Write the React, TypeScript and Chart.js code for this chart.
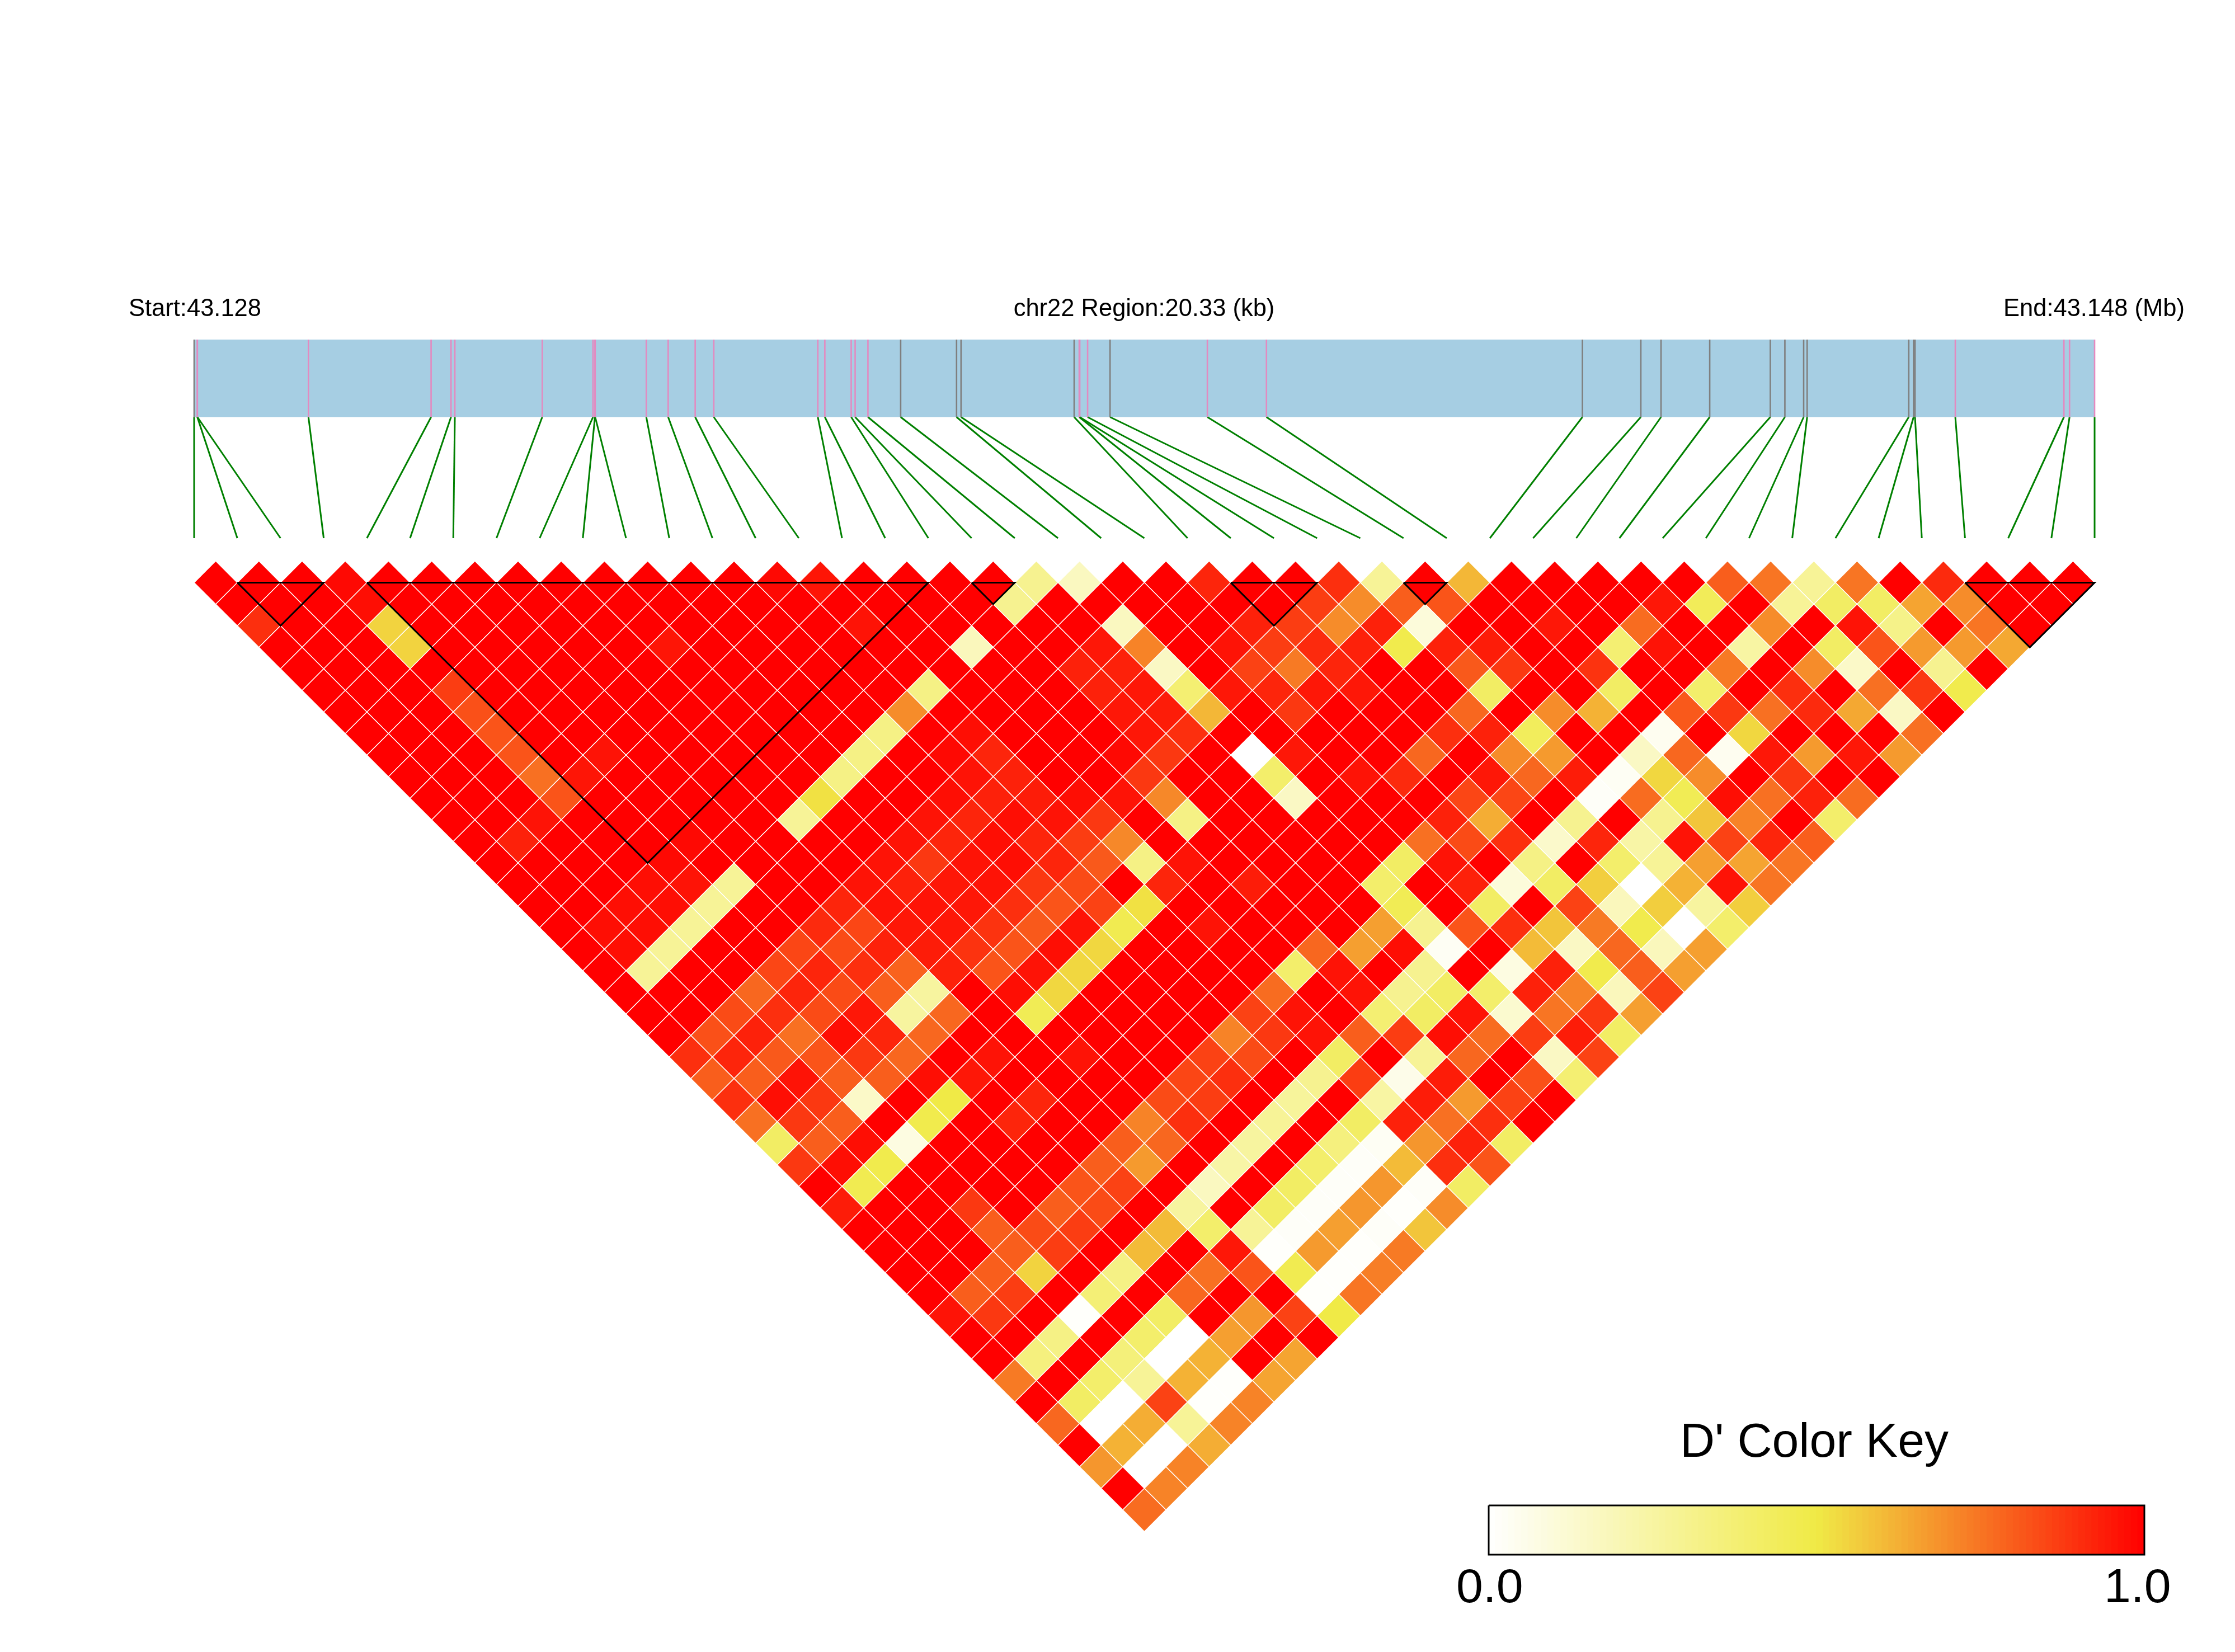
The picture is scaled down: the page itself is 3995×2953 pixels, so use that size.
import React, { useEffect, useRef } from "react";
import { Chart, registerables } from "chart.js";

Chart.register(...registerables);

// D' values, one list per depth of the triangle (row r holds the pairs i, i + r + 1)
const row00 = [1,1,1,.98,1,1,1,1,1,1,1,1,1,.98,.955,1,1,1,1,.3,.17,1,1,.92,1,1,.9,.28,1,.61,1,1,1,1,1,.8,.75,.28,.75,1,.91,1,1,1];
const row01 = [1,1,1,.97,1,1,1,1,1,1,1,1,1,1,1,1,1,1,.3,1,1,1,1,1,1,.87,.7,.8,.82,1,1,1,1,.95,.45,1,.28,.42,.42,.65,.7,1,1];
const row02 = [.9,1,1,.55,1,1,1,1,1,1,1,1,1,1,.96,1,1,1,1,1,.17,1,1,.93,.87,.7,.93,.1,1,1,.95,1,.77,1,1,.7,1,.96,.32,1,.75,1];
const row03 = [1,1,1,.55,1,1,1,1,1,.955,1,1,1,1,1,1,.18,1,1,.95,.72,1,.96,.87,.91,.93,.48,.93,.94,1,1,.38,.96,1,.25,1,.42,.82,.67,.67,.64];
const row04 = [1,1,1,1,1,1,1,1,1,1,1,1,1,1,1,1,1,1,.93,.93,.16,1,.86,.74,.92,1,1,.81,.88,1,.89,1,1,.74,1,.7,.15,1,.3,1];
const row05 = [1,1,1,.87,1,1,1,1,1,1,1,1,1,1,.33,1,1,1,.93,.95,.38,.95,.92,.95,.95,1,1,.42,1,1,.42,1,.4,1,.9,1,.76,.88,.48];
const row06 = [1,1,1,.83,1,1,1,1,1,1,1,1,1,.7,1,1,1,1,.95,.94,.61,1,.88,1,1,1,.78,1,.7,.62,1,.81,.88,.76,.91,.64,.16,1];
const row07 = [1,1,1,.82,1,1,1,1,1,1,1,1,.33,1,.97,1,1,1,.95,.9,1,1,1,1,1,.9,.93,.44,1,1,.04,1,.54,1,1,1,.76];
const row08 = [1,1,1,.82,1,.96,1,1,1,1,1,.33,1,.98,.92,1,1,.98,.88,1,0,.95,1,1,.78,1,.7,.67,1,.16,.78,.04,.95,.67,.95,.67];
const row09 = [1,1,1,.76,.955,1,1,1,1,1,.33,1,1,.96,.93,1,1,.88,1,1,.4,1,.96,.91,1,.95,.78,.94,.03,.54,.7,1,.88,1,1];
const row10 = [1,1,1,.82,1,1,1,1,1,.52,1,1,.97,.93,.94,.97,.96,.71,1,1,.16,1,1,1,.85,.85,1,.02,.77,.46,.97,.76,.93,.77];
const row11 = [1,1,.96,1,1,1,1,1,.28,1,1,.96,.92,.97,.96,.88,1,.33,1,1,1,1,1,.93,.63,1,.3,1,.3,.58,.72,1,.4];
const row12 = [1,.93,1,1,1,.98,1,1,1,1,.96,.92,.97,.92,.87,.71,1,1,1,1,1,1,.76,.84,.9,.14,.92,.24,.96,.86,.92,.8];
const row13 = [1,1,1,1,.98,1,1,1,1,.96,.88,.96,.97,.92,.81,.33,.96,1,1,1,1,.42,.96,1,.33,1,.4,.28,.66,.65,.75];
const row14 = [1,1,1,.97,.96,.28,1,1,.96,.93,.95,.96,.88,.84,1,.92,1,.94,1,1,.4,1,.93,.1,.42,.56,0,.62,.96,.75];
const row15 = [1,1,.97,.97,.28,1,1,.92,.96,.96,.95,.9,.82,.86,.52,1,1,1,1,1,.46,1,.42,1,.86,.18,.56,.26,.56];
const row16 = [1,.97,.97,.28,1,1,.91,.85,.95,.95,.89,.81,.96,.47,1,.96,1,1,1,.66,.3,.82,.9,.58,.74,.48,0,.4];
const row17 = [1,.97,.28,1,1,.85,.84,.93,.94,.89,.82,.97,.54,1,1,1,1,.78,.66,.97,.03,1,.6,.16,.78,.18,.66];
const row18 = [1,.28,1,1,.85,.92,.9,.79,.93,.82,.96,.54,1,1,1,1,.4,.96,1,.3,1,.08,.93,.48,.8,.66];
const row19 = [1,1,1,.78,.92,.84,.8,.26,1,.97,.54,1,1,1,1,.77,1,.96,.3,.42,.4,.93,.72,.18,.86];
const row20 = [1,1,.84,.9,.84,.95,.26,.78,1,.46,1,1,1,1,.86,.96,1,.38,.42,.96,.13,.75,.88,.66];
const row21 = [1,.83,.93,.76,.97,.92,.78,1,1,1,1,1,1,.72,.88,.96,.8,.87,.97,.77,.87,.94,.42];
const row22 = [.9,.92,.81,.82,.88,.78,1,.96,1,.96,1,1,.86,.84,1,.42,1,.28,.78,1,.16,.86];
const row23 = [.8,.8,.96,.8,.8,.97,.95,1,1,1,1,.85,.9,1,.3,.87,.06,.94,1,.83,.38];
const row24 = [.9,.97,.88,.15,1,.5,1,.92,1,1,.84,.87,1,.27,1,.25,.94,.67,.86,1];
const row25 = [.76,.88,.8,1,.48,1,.92,1,1,.72,.9,1,.28,1,.42,.93,.76,.9,1];
const row26 = [.42,.8,.97,.08,1,1,1,1,.8,.78,1,.26,1,.35,.03,.68,.93,.42];
const row27 = [.88,.97,.48,1,1,1,1,.8,.67,1,.24,1,.4,.02,.6,.9,.82];
const row28 = [1,.47,1,1,1,1,.82,.86,1,.17,1,.42,.02,.68,.02,.42];
const row29 = [.94,1,1,.88,1,.8,.84,1,.26,1,.42,.02,.68,.01,.7];
const row30 = [1,1,1,.8,.84,.87,1,.6,.4,.28,.02,.66,.02,.58];
const row31 = [1,1,1,.8,.87,1,.6,1,.95,.01,.67,.01,.74];
const row32 = [1,1,.8,.55,1,.33,1,.76,.82,.47,.01,.73];
const row33 = [1,.8,.87,1,.37,1,.78,1,1,.01,.75];
const row34 = [.96,.88,1,.01,1,.42,1,.68,.86,.5];
const row35 = [1,1,.33,1,.4,0,.66,1,1];
const row36 = [1,.35,1,.36,0,.62,1,.65];
const row37 = [.74,1,.4,.28,.62,.01,.65];
const row38 = [1,.42,0,.86,.01,.72];
const row39 = [.78,0,.63,.28,.72];
const row40 = [1,.62,0,.63];
const row41 = [.68,0,.72];
const row42 = [1,.72];
const row43 = [.77];

const ldRows = [row00,row01,row02,row03,row04,row05,row06,row07,row08,row09,row10,row11,row12,row13,row14,row15,row16,row17,row18,row19,row20,row21,row22,row23,row24,row25,row26,row27,row28,row29,row30,row31,row32,row33,row34,row35,row36,row37,row38,row39,row40,row41,row42,row43];

// physical SNP positions, kb from the region start
const snpKb = [0,.034,.035,1.223,2.535,2.748,2.789,3.724,4.267,4.288,4.29,4.837,5.071,5.36,5.559,6.672,6.747,7.029,7.071,7.208,7.558,8.156,8.204,9.414,9.468,9.474,9.558,9.798,10.839,11.471,14.851,15.476,15.692,16.213,16.861,17.017,17.218,17.255,18.342,18.394,18.409,18.84,20.002,20.062,20.33];
// annotation class per SNP: 0 = grey tick, 1 = pink tick
const snpClass = [0,1,1,1,1,1,1,1,1,1,1,1,1,1,1,1,1,1,1,1,0,0,0,0,1,1,1,0,1,1,0,0,0,0,0,0,0,0,0,0,0,1,1,1,1];
const regionKb = 20.33;

// LD blocks, first and last SNP index
const blockStart = [1,4,18,24,28,41];
const blockEnd = [3,17,19,26,29,44];

const labelStart = "Start:43.128";
const labelRegion = "chr22 Region:20.33 (kb)";
const labelEnd = "End:43.148 (Mb)";
const labelKey = "D' Color Key";
const labelKeyMin = "0.0";
const labelKeyMax = "1.0";
const keySteps = 100;

// layout, canvas pixels
const W = 3995, H = 2953;
const X0 = 347, DX = 77.205;
const Y0 = 1041.4, DY = 38.55;
const KEY_L = 2661, KEY_R = 3833, KEY_T = 2691, KEY_B = 2779;
const toRow = (py: number) => (py - Y0) / DY;
const BAR_T = toRow(607), BAR_B = toRow(745.5), LINE_B = toRow(962);

const WHITE = [255, 255, 255], YEL = [240, 234, 70], RED = [255, 0, 0];
function colorOf(v: number): string {
  const [a, b, t] = v <= 0.5 ? [WHITE, YEL, v / 0.5] : [YEL, RED, (v - 0.5) / 0.5];
  const m = a.map((c, i) => Math.round(c + (b[i] - c) * t));
  return `rgb(${m[0]},${m[1]},${m[2]})`;
}

const NO_POINT = { pointRadius: 0, pointHoverRadius: 0, showLine: true, fill: false, tension: 0, borderCapStyle: "butt" as const };

export default function App() {
  const ref = useRef<HTMLCanvasElement | null>(null);
  useEffect(() => {
    const canvas = ref.current;
    if (!canvas) return;

    const cells: { x: number; y: number }[] = [];
    const colors: string[] = [];
    ldRows.forEach((row, r) =>
      row.forEach((v, c) => {
        cells.push({ x: c + (r + 1) / 2, y: r });
        colors.push(colorOf(v));
      })
    );

    const snpP = snpKb.map((k) => (k / regionKb) * (snpKb.length - 1));
    const datasets: any[] = [];

    datasets.push({
      type: "line", ...NO_POINT, order: 30,
      data: [{ x: 0, y: BAR_T }, { x: snpKb.length - 1, y: BAR_T }],
      borderColor: "#A6CEE3", borderWidth: 0,
      fill: { target: { value: BAR_B } }, backgroundColor: "#A6CEE3",
    });
    snpP.forEach((p, i) => {
      datasets.push({
        type: "line", ...NO_POINT, order: 20,
        data: [{ x: p, y: BAR_T }, { x: p, y: BAR_B }],
        borderColor: snpClass[i] ? "#E38AC0" : "#7F7F7F", borderWidth: 2.6,
      });
      datasets.push({
        type: "line", ...NO_POINT, order: 20,
        data: [{ x: p, y: BAR_B }, { x: i, y: LINE_B }],
        borderColor: "#008000", borderWidth: 3,
      });
    });

    datasets.push({
      type: "scatter", order: 10, data: cells, showLine: false,
      pointStyle: "rectRot", pointRadius: 38.6, pointHoverRadius: 38.6,
      pointBackgroundColor: colors, pointBorderColor: "#FFFFFF", pointBorderWidth: 1.4,
    });

    blockStart.forEach((a, i) => {
      const b = blockEnd[i];
      datasets.push({
        type: "line", ...NO_POINT, order: 5,
        data: [{ x: a, y: 0 }, { x: b, y: 0 }, { x: (a + b) / 2, y: b - a }, { x: a, y: 0 }],
        borderColor: "#000000", borderWidth: 3, borderJoinStyle: "miter",
      });
    });

    const steps = Array.from({ length: keySteps }, (_, k) => (k + 0.5) / keySteps);
    datasets.push({
      type: "bar", order: 4, xAxisID: "xKey", yAxisID: "y", grouped: false,
      data: steps.map((s) => ({ x: s, y: [toRow(KEY_T), toRow(KEY_B)] })),
      backgroundColor: steps.map(colorOf), borderWidth: 0,
      barThickness: (KEY_R - KEY_L) / keySteps + 0.6,
    });
    datasets.push({
      type: "line", ...NO_POINT, order: 1, xAxisID: "xKey",
      data: [
        { x: 0, y: toRow(KEY_T) }, { x: 1, y: toRow(KEY_T) },
        { x: 1, y: toRow(KEY_B) }, { x: 0, y: toRow(KEY_B) }, { x: 0, y: toRow(KEY_T) },
      ],
      borderColor: "#000000", borderWidth: 3, borderJoinStyle: "miter",
    });

    const textPlugin = {
      id: "textLabels",
      afterDraw(chart: any) {
        const ctx = chart.ctx;
        ctx.save();
        ctx.fillStyle = "#000";
        ctx.textBaseline = "alphabetic";
        ctx.font = '43.5px "Liberation Sans"';
        ctx.textAlign = "left";
        ctx.fillText(labelStart, 230, 565);
        ctx.textAlign = "center";
        ctx.fillText(labelRegion, 2045, 565);
        ctx.textAlign = "right";
        ctx.fillText(labelEnd, 3905, 565);
        ctx.font = '86px "Liberation Sans"';
        ctx.textAlign = "center";
        ctx.fillText(labelKey, 3243, 2604);
        ctx.textAlign = "left";
        ctx.fillText(labelKeyMin, 2603, 2864);
        ctx.fillText(labelKeyMax, 3761, 2864);
        ctx.restore();
      },
    };

    const hidden = { display: false, offset: false, bounds: "data" as const, beginAtZero: false, grid: { display: false } };
    const chart = new Chart(canvas, {
      type: "scatter",
      data: { datasets },
      plugins: [textPlugin],
      options: {
        responsive: false,
        animation: false,
        devicePixelRatio: 1,
        events: [],
        layout: { padding: 0, autoPadding: false },
        plugins: { legend: { display: false }, tooltip: { enabled: false }, title: { display: false } },
        scales: {
          x: { ...hidden, type: "linear", min: -X0 / DX, max: (W - X0) / DX },
          xKey: { ...hidden, type: "linear", axis: "x", min: -KEY_L / (KEY_R - KEY_L), max: (W - KEY_L) / (KEY_R - KEY_L) },
          y: { ...hidden, type: "linear", reverse: true, min: -Y0 / DY, max: (H - Y0) / DY },
        },
      } as any,
    } as any);
    return () => chart.destroy();
  }, []);

  return (
    <div style={{ position: "absolute", left: 0, top: 0, width: W, height: H, background: "#fff" }}>
      <canvas ref={ref} width={W} height={H} style={{ display: "block" }} />
    </div>
  );
}
